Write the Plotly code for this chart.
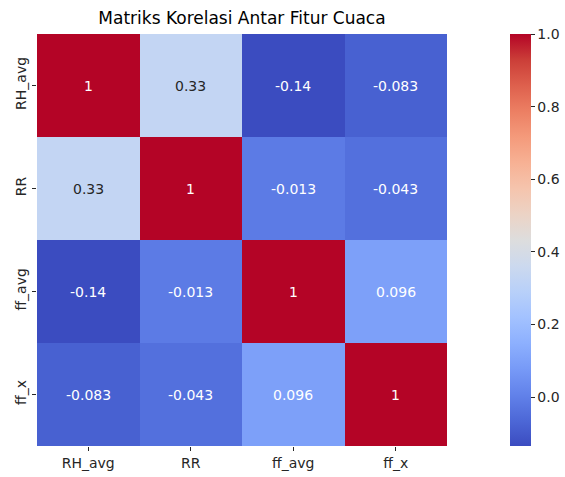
import plotly.graph_objects as go

features = ["RH_avg", "RR", "ff_avg", "ff_x"]
row_rh = [1.0, 0.33, -0.135, -0.083]
row_rr = [0.33, 1.0, -0.013, -0.043]
row_ffavg = [-0.135, -0.013, 1.0, 0.096]
row_ffx = [-0.083, -0.043, 0.096, 1.0]
matrix = [row_rh, row_rr, row_ffavg, row_ffx]
cbar_ticks = [0.0, 0.2, 0.4, 0.6, 0.8, 1.0]

coolwarm_pts = [
    (0.0, (59, 76, 192)), (0.0625, (77, 104, 215)), (0.125, (98, 130, 234)),
    (0.1875, (119, 154, 247)), (0.25, (141, 176, 254)), (0.3125, (163, 194, 255)),
    (0.375, (184, 208, 249)), (0.4375, (204, 217, 238)), (0.5, (221, 221, 221)),
    (0.5625, (236, 211, 197)), (0.625, (245, 196, 173)), (0.6875, (247, 177, 148)),
    (0.75, (244, 154, 123)), (0.8125, (236, 127, 99)), (0.875, (222, 96, 77)),
    (0.9375, (203, 62, 56)), (1.0, (180, 4, 38)),
]
colorscale = [[p, "rgb(%d,%d,%d)" % c] for p, c in coolwarm_pts]

zmin = min(min(r) for r in matrix)
zmax = max(max(r) for r in matrix)


def cmap(v):
    t = (v - zmin) / (zmax - zmin)
    t = max(0.0, min(1.0, t))
    for (p0, c0), (p1, c1) in zip(coolwarm_pts[:-1], coolwarm_pts[1:]):
        if p0 <= t <= p1:
            f = (t - p0) / (p1 - p0) if p1 > p0 else 0
            return tuple(c0[i] + f * (c1[i] - c0[i]) for i in range(3))
    return coolwarm_pts[-1][1]


def lum(c):
    out = []
    for x in c:
        x = x / 255.0
        out.append(x / 12.92 if x <= 0.03928 else ((x + 0.055) / 1.055) ** 2.4)
    return 0.2126 * out[0] + 0.7152 * out[1] + 0.0722 * out[2]


FS = 14

fig = go.Figure(go.Heatmap(
    z=matrix, x=features, y=features, colorscale=colorscale,
    zmin=zmin, zmax=zmax,
    colorbar=dict(
        tickvals=cbar_ticks, ticktext=["%.1f" % t for t in cbar_ticks],
        thickness=21, len=1, lenmode="fraction", y=0.5, yanchor="middle",
        x=1.1537, xanchor="left", xpad=0, ypad=0, outlinewidth=0,
        ticks="outside", ticklen=4, tickcolor="#262626",
        tickfont=dict(family="DejaVu Sans", size=FS, color="#262626"),
    ),
    hoverongaps=False,
))

annotations = []
for i, row in enumerate(matrix):
    for j, v in enumerate(row):
        txt = format(round(v, 3) if abs(v) < 0.1 else round(v, 2), ".2g")
        col = "#262626" if lum(cmap(v)) > 0.408 else "white"
        annotations.append(dict(x=features[j], y=features[i], text=txt, showarrow=False,
                                font=dict(family="DejaVu Sans", size=FS, color=col)))

fig.update_layout(
    width=565, height=477,
    margin=dict(l=37, r=118, t=34, b=31, autoexpand=False),
    paper_bgcolor="white", plot_bgcolor="white",
    title=dict(text="Matriks Korelasi Antar Fitur Cuaca", x=0.5, xref="paper",
               y=1 - 18 / 477, yref="container", yanchor="middle", xanchor="center",
               font=dict(family="DejaVu Sans", size=17, color="#000000")),
    annotations=annotations,
    font=dict(family="DejaVu Sans", size=FS, color="#262626"),
)
fig.update_xaxes(showgrid=False, zeroline=False, ticks="outside", ticklen=4,
                 tickcolor="#262626", tickfont=dict(size=FS, color="#262626"))
fig.update_yaxes(showgrid=False, zeroline=False, autorange="reversed", ticks="outside",
                 ticklen=4, tickcolor="#262626", tickangle=-90,
                 tickfont=dict(size=FS, color="#262626"))

fig.write_html("out.html", config={"displayModeBar": False},
               post_script="document.body.style.margin='0';")
